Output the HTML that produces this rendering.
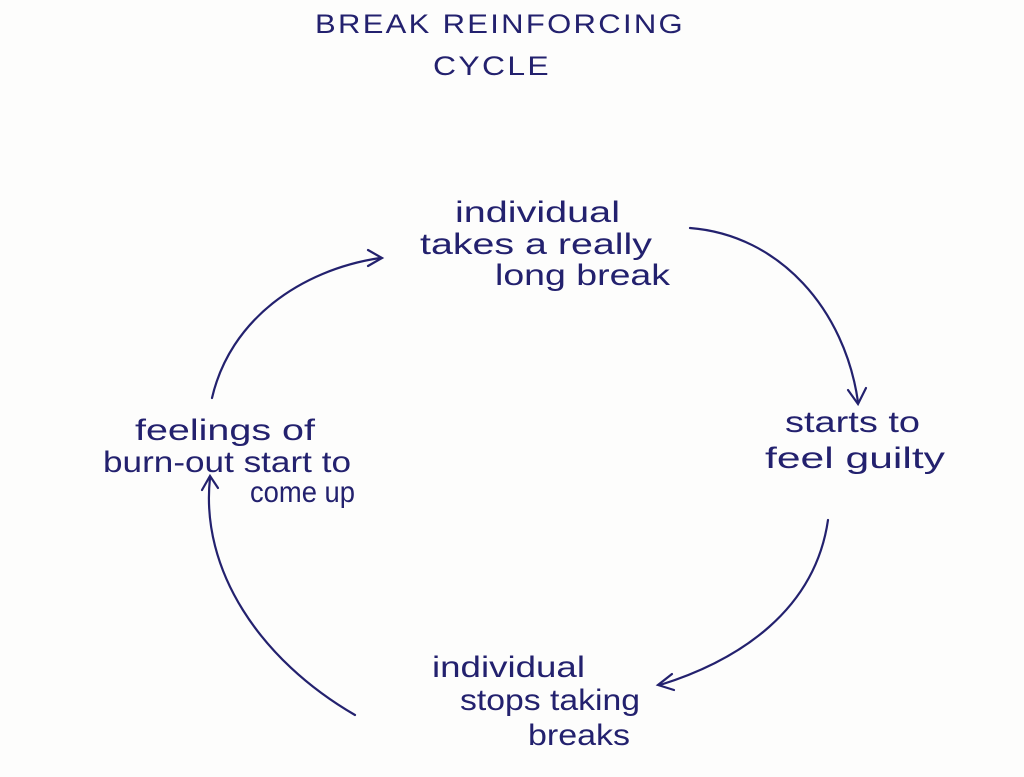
<!DOCTYPE html>
<html><head><meta charset="utf-8"><style>
html,body{margin:0;padding:0;background:#fdfdfc;}
svg{display:block}
text{font-family:"Liberation Sans",sans-serif;fill:#23216e;}
</style></head><body>
<svg width="1024" height="777" viewBox="0 0 1024 777">
<rect width="1024" height="777" fill="#fdfdfc"/>
<g font-size="27" letter-spacing="2">
<text x="500" y="33" text-anchor="middle" textLength="370" lengthAdjust="spacingAndGlyphs">BREAK REINFORCING</text>
<text x="492" y="75" text-anchor="middle" textLength="118" lengthAdjust="spacingAndGlyphs">CYCLE</text>
</g>
<g font-size="30">
<text x="455" y="222" textLength="165" lengthAdjust="spacingAndGlyphs">individual</text>
<text x="420" y="254" textLength="232" lengthAdjust="spacingAndGlyphs">takes a really</text>
<text x="495" y="285" textLength="175" lengthAdjust="spacingAndGlyphs">long break</text>
<text x="785" y="432" textLength="135" lengthAdjust="spacingAndGlyphs">starts to</text>
<text x="765" y="468" textLength="180" lengthAdjust="spacingAndGlyphs">feel guilty</text>
<text x="432" y="677" textLength="153" lengthAdjust="spacingAndGlyphs">individual</text>
<text x="460" y="710" textLength="180" lengthAdjust="spacingAndGlyphs">stops taking</text>
<text x="528" y="745" textLength="102" lengthAdjust="spacingAndGlyphs">breaks</text>
<text x="135" y="440" textLength="180" lengthAdjust="spacingAndGlyphs">feelings of</text>
<text x="103" y="472" textLength="248" lengthAdjust="spacingAndGlyphs">burn-out start to</text>
<text x="250" y="502" textLength="105" lengthAdjust="spacingAndGlyphs">come up</text>
</g>
<g fill="none" stroke="#23216e" stroke-width="2.2" stroke-linecap="round">
<path d="M690 228 C780 235 845 310 858 402"/>
<path d="M848 390 L858 404 L866 388"/>
<path d="M828 520 C815 610 740 660 660 685"/>
<path d="M672 674 L658 685 L674 690"/>
<path d="M355 715 C260 660 200 570 210 478"/>
<path d="M202 490 L210 476 L218 488"/>
<path d="M212 398 C230 320 300 270 380 258"/>
<path d="M368 250 L382 258 L368 266"/>
</g>
</svg>
</body></html>
